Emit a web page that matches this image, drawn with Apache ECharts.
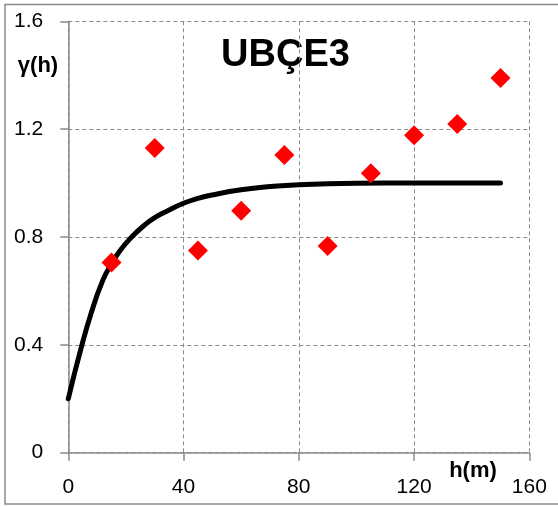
<!DOCTYPE html>
<html>
<head>
<meta charset="utf-8">
<script src="https://cdn.jsdelivr.net/npm/echarts@6/dist/echarts.min.js"></script>
<style>
html,body{margin:0;padding:0;background:#fff;}
#c{width:558px;height:506px;}
</style>
</head>
<body>
<div id="c"></div>
<script>
// Experimental variogram points
const lagH = [15, 30, 45, 60, 75, 90, 105, 120, 135, 150];
const gammaObs = [0.705, 1.13, 0.75, 0.897, 1.104, 0.767, 1.036, 1.177, 1.219, 1.39];
// Model curve
const modelH = [0, 4, 8, 12, 15, 18, 22, 26, 30, 35, 40, 45, 50, 60, 70, 80, 100, 120, 150];
const modelGamma = [0.2, 0.37, 0.52, 0.64, 0.70, 0.75, 0.80, 0.84, 0.872, 0.90, 0.925, 0.943, 0.956, 0.975, 0.987, 0.994, 0.999, 1.0, 1.0];
const xTicks = [0, 40, 80, 120, 160];
const yTicks = [0, 0.4, 0.8, 1.2, 1.6];
const titleText = 'UBÇE3';
const yName = 'γ(h)';
const xName = 'h(m)';

const chart = echarts.init(document.getElementById('c'), null, {renderer: 'canvas'});
const font = '"Liberation Sans", Arial, sans-serif';
const gridLine = {show: true, lineStyle: {color: '#8a8a8a', width: 1, type: [4, 3]}};
chart.setOption({
  animation: false,
  backgroundColor: '#fff',
  grid: {left: 68.3, right: 28.7, top: 21.3, bottom: 53.3, containLabel: false},
  xAxis: {
    type: 'value', min: xTicks[0], max: xTicks[xTicks.length - 1], interval: 40,
    axisLine: {show: true, onZero: false, lineStyle: {color: '#8a8a8a', width: 1.5}},
    axisTick: {show: true, length: 8, lineStyle: {color: '#8a8a8a', width: 1.5}},
    axisLabel: {color: '#000', fontSize: 21, fontFamily: font, margin: 24},
    splitLine: gridLine
  },
  yAxis: {
    type: 'value', min: yTicks[0], max: yTicks[yTicks.length - 1], interval: 0.4,
    axisLine: {show: true, onZero: false, lineStyle: {color: '#8a8a8a', width: 1.5}},
    axisTick: {show: true, length: 8, lineStyle: {color: '#8a8a8a', width: 1.5}},
    axisLabel: {color: '#000', fontSize: 21, fontFamily: font, margin: 25,
      formatter: v => (v === 0 ? '0' : v.toFixed(1))},
    splitLine: gridLine
  },
  series: [
    {
      type: 'line', data: modelH.map((h, i) => [h, modelGamma[i]]),
      smooth: 0.5, showSymbol: false, symbol: 'none', z: 2,
      lineStyle: {color: '#000', width: 5, cap: 'round', join: 'round'}
    },
    {
      type: 'scatter', data: lagH.map((h, i) => [h, gammaObs[i]]),
      symbol: 'diamond', symbolSize: 20, z: 5,
      itemStyle: {color: '#ff0000', opacity: 1}
    }
  ],
  graphic: [
    {type: 'rect', shape: {x: 5, y: 4.5, width: 560, height: 499.5},
     style: {fill: 'none', stroke: '#8a8a8a', lineWidth: 1.5}, silent: true},
    {type: 'text', x: 285.5, y: 56, style: {text: titleText, font: 'bold 38px ' + font,
      fill: '#000', textAlign: 'center', textVerticalAlign: 'middle'}},
    {type: 'text', x: 38, y: 66, style: {text: yName, font: 'bold 22px ' + font,
      fill: '#000', textAlign: 'center', textVerticalAlign: 'middle'}},
    {type: 'text', x: 473, y: 471, style: {text: xName, font: 'bold 22px ' + font,
      fill: '#000', textAlign: 'center', textVerticalAlign: 'middle'}}
  ]
});
</script>
</body>
</html>
